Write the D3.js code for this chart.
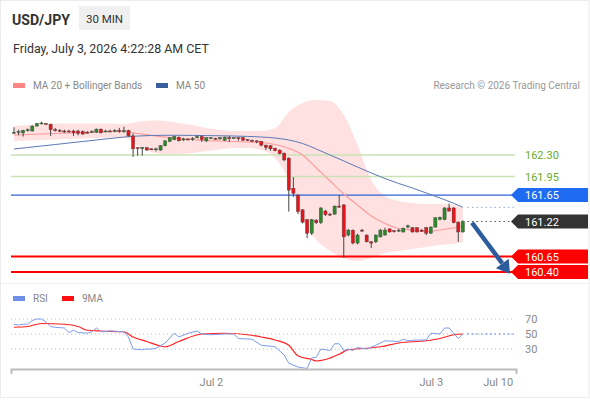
<!DOCTYPE html>
<html lang="en">
<head>
<meta charset="UTF-8">
<title>USD/JPY 30 MIN</title>
<script src="https://d3js.org/d3.v7.min.js"></script>
<style>
  body { margin: 0; background: #fff; }
  svg { font-family: Roboto, "Liberation Sans", sans-serif; display: block; }
</style>
</head>
<body>
<script>
const w = 590, h = 400;

// 30 min candles, index 0 = Jul 1 02:30
const open  = [162.66,162.67,162.66,162.70,162.69,162.77,162.81,162.81,162.80,162.71,162.70,162.69,162.69,162.69,162.69,162.68,162.67,162.67,162.67,162.72,
               162.68,162.69,162.68,162.70,162.69,162.70,162.61,162.42,162.41,162.42,162.40,162.39,162.38,162.45,162.52,162.55,162.59,162.55,162.56,162.56,
               162.58,162.60,162.53,162.57,162.57,162.56,162.54,162.58,162.57,162.58,162.58,162.55,162.54,162.53,162.52,162.46,162.45,162.41,162.38,162.33,
               162.25,161.76,161.65,161.41,161.25,161.03,161.24,161.20,161.39,161.34,161.34,161.47,161.49,161.00,161.08,160.87,161.08,161.00,160.89,160.89,
               160.97,161.00,161.10,161.07,161.07,161.05,161.13,161.12,161.12,161.08,161.12,161.03,161.13,161.25,161.25,161.44,161.44,161.21,161.05];
const high  = [162.75,162.71,162.71,162.73,162.78,162.82,162.84,162.82,162.81,162.74,162.72,162.71,162.71,162.71,162.71,162.70,162.69,162.70,162.73,162.73,
               162.71,162.71,162.72,162.74,162.76,162.71,162.65,162.43,162.43,162.43,162.41,162.42,162.46,162.54,162.59,162.61,162.60,162.58,162.57,162.59,
               162.61,162.61,162.59,162.59,162.58,162.59,162.60,162.61,162.59,162.59,162.59,162.56,162.55,162.54,162.53,162.47,162.46,162.42,162.39,162.34,
               162.26,161.94,161.66,161.42,161.26,161.26,161.26,161.45,161.41,161.36,161.48,161.65,161.50,161.10,161.09,161.02,161.10,161.01,160.90,161.01,
               161.10,161.12,161.11,161.08,161.10,161.12,161.17,161.13,161.13,161.10,161.13,161.14,161.29,161.30,161.45,161.51,161.45,161.22,161.24];
const low   = [162.64,162.62,162.60,162.68,162.68,162.76,162.80,162.79,162.61,162.68,162.67,162.66,162.66,162.61,162.62,162.63,162.65,162.66,162.66,162.65,
               162.67,162.67,162.67,162.66,162.66,162.60,162.27,162.29,162.29,162.37,162.38,162.36,162.37,162.44,162.51,162.54,162.52,162.53,162.54,162.53,
               162.57,162.51,162.51,162.56,162.55,162.55,162.53,162.51,162.56,162.53,162.53,162.53,162.51,162.49,162.44,162.38,162.37,162.36,162.31,162.20,
               161.38,161.62,161.34,161.19,160.95,161.00,161.18,161.18,161.31,161.31,161.33,161.44,160.63,160.98,160.85,160.85,161.05,160.88,160.79,160.87,
               160.96,160.99,161.04,161.04,161.05,161.04,161.11,161.04,161.04,161.05,161.00,161.02,161.12,161.24,161.24,161.38,161.19,160.89,161.04];
const close = [162.67,162.68,162.70,162.71,162.77,162.81,162.82,162.80,162.71,162.70,162.69,162.68,162.68,162.66,162.65,162.64,162.66,162.68,162.72,162.66,
               162.69,162.68,162.70,162.69,162.70,162.61,162.40,162.41,162.42,162.38,162.39,162.40,162.45,162.53,162.58,162.60,162.53,162.56,162.55,162.57,
               162.60,162.55,162.58,162.58,162.56,162.58,162.59,162.57,162.58,162.57,162.54,162.54,162.52,162.52,162.46,162.42,162.40,162.37,162.32,162.22,
               161.73,161.68,161.38,161.21,161.03,161.25,161.20,161.44,161.33,161.33,161.47,161.46,160.97,161.08,160.87,161.00,161.07,160.89,160.87,161.00,
               161.08,161.08,161.05,161.06,161.08,161.11,161.15,161.05,161.05,161.06,161.03,161.13,161.28,161.29,161.44,161.39,161.20,161.05,161.22];

// MA 20, Bollinger Bands and MA 50 read every 3 candles
const maIdx = [0,3,6,9,12,15,18,21,24,27,30,33,36,39,42,45,48,51,54,57,60,63,66,69,72,75,78,81,84,87,90,93,96,98];
const ma20  = [162.625,162.633,162.641,162.649,162.657,162.665,162.673,162.682,162.682,162.649,162.617,162.592,162.568,162.552,162.535,162.527,162.519,
               162.511,162.503,162.470,162.406,162.300,162.089,161.878,161.667,161.488,161.310,161.188,161.107,161.082,161.058,161.082,161.115,161.139];
const bbUp  = [162.771,162.787,162.803,162.811,162.811,162.811,162.811,162.811,162.803,162.836,162.860,162.852,162.820,162.787,162.738,162.706,162.690,
               162.690,162.690,162.738,162.998,163.144,163.193,163.177,162.949,162.462,161.894,161.634,161.553,161.521,161.505,161.505,161.488,161.440];
const bbLow = [162.527,162.535,162.544,162.552,162.560,162.568,162.576,162.584,162.584,162.446,162.349,162.316,162.316,162.332,162.365,162.389,162.414,
               162.414,162.381,162.251,161.894,161.245,160.920,160.742,160.628,160.579,160.628,160.709,160.742,160.774,160.807,160.839,160.855,160.888];
const ma50  = [162.397,162.422,162.446,162.470,162.495,162.519,162.544,162.568,162.592,162.608,162.617,162.620,162.620,162.618,162.615,162.612,162.608,
               162.602,162.592,162.576,162.544,162.487,162.397,162.300,162.203,162.105,162.008,161.918,161.837,161.764,161.683,161.602,161.515,161.450];

// RSI and its 9 period MA
const rsiIdx = [0,1,2,3,4,5,6,7,8,9,11,12,13,14,16,17,18,19,21,24,25,26,28,29,30,31,33,35,36,38,40,41,43,46,48,49,52,54,57,59,60,62,64,65,66,67,
                69,70,71,72,73,74,75,77,79,81,84,85,86,88,90,91,93,94,95,96,97,98];
const rsi    = [63,62,63,63,68,70,70,66,60,59,58,52,55,52,51,53,58,53,54,53,46,30,29,30,30,31,38,51,46,51,54,50,49,50,50,44,43,35,33,22,11,6,4,18,19,30,
                28,37,37,28,30,28,32,30,35,41,40,43,41,42,42,51,50,58,58,51,44,50];
const rsiMaIdx = [0,3,6,11,14,16,19,24,26,29,32,33,36,41,46,51,54,57,60,62,65,66,68,71,73,77,80,84,90,93,96,98];
const rsiMa    = [59,60,64,63,60,55,54,53,46,40,34,33,40,50,51,49,46,42,35,21,16,14,16,23,29,31,33,38,41,44,49,50];

// key levels on the right
const levels     = [162.30, 161.95, 161.65, 161.22, 160.65, 160.40];
const levelKinds = ["res", "res", "ma50", "last", "sup", "sup"];

const rsiTicks   = [70, 50, 30];
const timeTicks  = [43, 91, 105.6];
const timeLabels = ["Jul 2", "Jul 3", "Jul 10"];

// forecast arrow: [candle index, price]
const arrowFrom = [100, 161.20];
const arrowTo   = [108.3, 160.37];

const svg = d3.select("body").append("svg")
    .attr("width", w)
    .attr("height", h)
    .attr("viewBox", [0, 0, w, h]);

const x = d3.scaleLinear().domain([-0.65, 109.6]).range([11, 516]);
const y = d3.scaleLinear().domain([160.40, 162.30]).range([272, 155]);
const yr = d3.scaleLinear().domain([30, 70]).range([349, 319]);
const lineEnd = 515;

// frame
svg.append("rect")
    .attr("x", 0.5).attr("y", 0.5)
    .attr("width", w - 1.5).attr("height", h - 3)
    .attr("fill", "none")
    .attr("stroke", "#ececec");

// header
svg.append("text")
    .attr("x", 12).attr("y", 25)
    .attr("font-size", 15)
    .attr("font-weight", "bold")
    .attr("textLength", 58)
    .attr("lengthAdjust", "spacingAndGlyphs")
    .attr("fill", "#333")
    .text("USD/JPY");

svg.append("rect")
    .attr("x", 79).attr("y", 6)
    .attr("width", 51).attr("height", 24)
    .attr("fill", "#f0f0f0");

svg.append("text")
    .attr("x", 104.5).attr("y", 22.5)
    .attr("text-anchor", "middle")
    .attr("font-size", 11.5)
    .attr("fill", "#333")
    .text("30 MIN");

svg.append("text")
    .attr("x", 13).attr("y", 53)
    .attr("font-size", 12.4)
    .attr("fill", "#333")
    .text("Friday, July 3, 2026 4:22:28 AM CET");

// legends
const legend = (items, ly) => {
    items.forEach(([lx, color, label]) => {
        svg.append("rect").attr("x", lx).attr("y", ly - 3).attr("width", 12).attr("height", 5).attr("fill", color);
        svg.append("text").attr("x", lx + 20).attr("y", ly + 3).attr("font-size", 10).attr("fill", "#888").text(label);
    });
};
legend([[13, "#ff8585", "MA 20 + Bollinger Bands"], [156, "#3b5f9c", "MA 50"]], 86);
legend([[13, "#6f8fe8", "RSI"], [62, "#ff1010", "9MA"]], 299);

svg.append("text")
    .attr("x", 580).attr("y", 89)
    .attr("text-anchor", "end")
    .attr("font-size", 10)
    .attr("fill", "#999")
    .text("Research \u00a9 2026 Trading Central");

// bollinger band
const maPts = maIdx.map((d, k) => ({ i: d, m20: ma20[k], up: bbUp[k], lo: bbLow[k], m50: ma50[k] }));

svg.append("path")
    .datum(maPts)
    .attr("fill", "#ffe1e1")
    .attr("d", d3.area().curve(d3.curveMonotoneX)
        .x(d => x(d.i)).y0(d => y(d.lo)).y1(d => y(d.up)));

// level lines
const lastIdx = open.length - 1;
levels.forEach((v, k) => {
    const kind = levelKinds[k];
    const ly = y(v);
    if (kind === "res") {
        svg.append("line").attr("x1", 11).attr("x2", lineEnd).attr("y1", ly).attr("y2", ly)
            .attr("stroke", "#c9e3b5").attr("stroke-width", 1.5);
        svg.append("text").attr("x", 525).attr("y", ly + 4).attr("font-size", 11)
            .attr("fill", "#6aab2c").text(v.toFixed(2));
        return;
    }
    if (kind === "last") {
        svg.append("line").attr("x1", x(lastIdx + 1)).attr("x2", lineEnd).attr("y1", ly).attr("y2", ly)
            .attr("stroke", "#555").attr("stroke-dasharray", "1.5,3");
    } else if (kind === "ma50") {
        svg.append("line").attr("x1", 11).attr("x2", 514).attr("y1", ly).attr("y2", ly)
            .attr("stroke", "#2f62d6").attr("stroke-width", 1.2);
    } else {
        svg.append("line").attr("x1", 11).attr("x2", 514).attr("y1", ly).attr("y2", ly)
            .attr("stroke", "#ff0000").attr("stroke-width", 2);
    }
    const fill = kind === "ma50" ? "#1f6cf2" : kind === "last" ? "#333" : "#ff0000";
    const bx = 511, hh = 7;
    svg.append("polygon")
        .attr("points", [[bx, ly], [bx + 7, ly - hh], [588, ly - hh], [588, ly + hh], [bx + 7, ly + hh]].join(" "))
        .attr("fill", fill);
    svg.append("text").attr("x", 525).attr("y", ly + 4).attr("font-size", 11)
        .attr("fill", "#fff").text(v.toFixed(2));
});

// moving averages
svg.append("path")
    .datum(maPts)
    .attr("fill", "none")
    .attr("stroke", "#ff9a9a")
    .attr("stroke-width", 1.1)
    .attr("d", d3.line().curve(d3.curveMonotoneX).x(d => x(d.i)).y(d => y(d.m20)));

svg.append("path")
    .datum(maPts)
    .attr("fill", "none")
    .attr("stroke", "#5a78b4")
    .attr("stroke-width", 1)
    .attr("d", d3.line().curve(d3.curveMonotoneX).x(d => x(d.i)).y(d => y(d.m50)));

svg.append("line")
    .attr("x1", x(lastIdx + 1)).attr("x2", lineEnd)
    .attr("y1", y(ma50[ma50.length - 1])).attr("y2", y(ma50[ma50.length - 1]))
    .attr("stroke", "#8fa6d0").attr("stroke-dasharray", "1.5,3");

// candles
const candles = open.map((o, i) => ({ i, o, h: high[i], l: low[i], c: close[i] }));
const cg = svg.append("g").selectAll("g").data(candles).join("g");

cg.append("line")
    .attr("x1", d => x(d.i)).attr("x2", d => x(d.i))
    .attr("y1", d => y(d.h)).attr("y2", d => y(d.l))
    .attr("stroke", "#444").attr("stroke-width", 1);

cg.append("rect")
    .attr("x", d => x(d.i) - 1.6)
    .attr("width", 3.2)
    .attr("y", d => y(Math.max(d.o, d.c)))
    .attr("height", d => Math.max(1, Math.abs(y(d.o) - y(d.c))))
    .attr("fill", d => d.c > d.o ? "#2a8a2a" : d.c < d.o ? "#e8141b" : "#444")
    .attr("stroke", "#444")
    .attr("stroke-width", 0.4);

// forecast arrow
const ax1 = x(arrowFrom[0]), ay1 = y(arrowFrom[1]);
const ax2 = x(arrowTo[0]), ay2 = y(arrowTo[1]);
const ang = Math.atan2(ay2 - ay1, ax2 - ax1);
const headLen = 13, headW = 8;
const bxA = ax2 - headLen * Math.cos(ang), byA = ay2 - headLen * Math.sin(ang);
svg.append("line")
    .attr("x1", ax1).attr("y1", ay1).attr("x2", bxA).attr("y2", byA)
    .attr("stroke", "#2d5c9c").attr("stroke-width", 4.5);
svg.append("polygon")
    .attr("points", [
        [ax2, ay2],
        [bxA + headW * Math.sin(ang), byA - headW * Math.cos(ang)],
        [bxA - headW * Math.sin(ang), byA + headW * Math.cos(ang)]
    ].join(" "))
    .attr("fill", "#2d5c9c");

// panel separator
svg.append("line")
    .attr("x1", 1).attr("x2", w - 1).attr("y1", 283.5).attr("y2", 283.5)
    .attr("stroke", "#f0f0f0");

// RSI panel
rsiTicks.forEach(t => {
    svg.append("line").attr("x1", 11).attr("x2", lineEnd).attr("y1", yr(t)).attr("y2", yr(t))
        .attr("stroke", "#bbb").attr("stroke-dasharray", "1,3");
    svg.append("text").attr("x", 525).attr("y", yr(t) + 4).attr("font-size", 11)
        .attr("fill", "#888").text(t);
});

const rsiPts = rsiIdx.map((d, k) => ({ i: d, v: rsi[k] }));
const rsiMaPts = rsiMaIdx.map((d, k) => ({ i: d, v: rsiMa[k] }));

svg.append("path")
    .datum(rsiMaPts)
    .attr("fill", "none")
    .attr("stroke", "#ff2020")
    .attr("stroke-width", 1.2)
    .attr("d", d3.line().curve(d3.curveMonotoneX).x(d => x(d.i)).y(d => yr(d.v)));

svg.append("path")
    .datum(rsiPts)
    .attr("fill", "none")
    .attr("stroke", "#7f9cec")
    .attr("stroke-width", 1)
    .attr("d", d3.line().x(d => x(d.i)).y(d => yr(d.v)));

svg.append("line")
    .attr("x1", x(lastIdx + 1)).attr("x2", lineEnd)
    .attr("y1", yr(rsi[rsi.length - 1])).attr("y2", yr(rsi[rsi.length - 1]))
    .attr("stroke", "#7f9cec").attr("stroke-width", 1.5).attr("stroke-dasharray", "1.5,3");

// time axis
const xAxis = d3.axisBottom(x)
    .tickValues(timeTicks)
    .tickFormat((d, k) => timeLabels[k])
    .tickSizeInner(0)
    .tickSizeOuter(5)
    .tickPadding(9);

const axG = svg.append("g")
    .attr("transform", "translate(0, 369)")
    .call(xAxis);
axG.select(".domain").attr("stroke", "#bbb").attr("stroke-width", 2);
axG.selectAll("text")
    .attr("font-family", "Roboto, 'Liberation Sans', sans-serif")
    .attr("font-size", 11)
    .attr("fill", "#888");
</script>
</body>
</html>
